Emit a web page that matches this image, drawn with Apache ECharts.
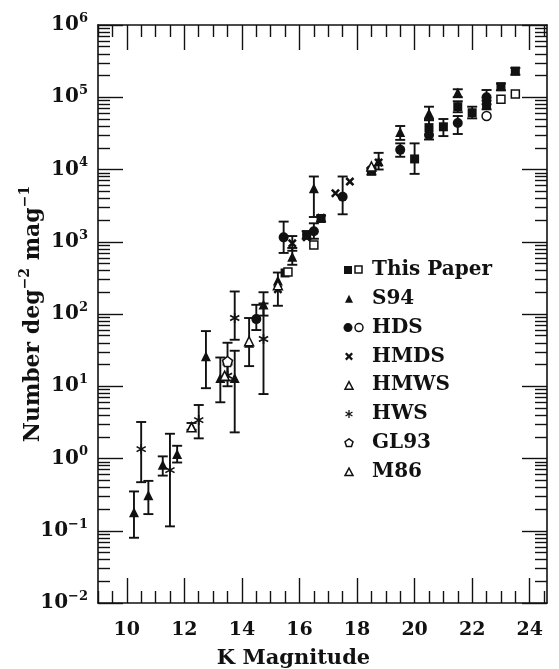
<!DOCTYPE html>
<html>
<head>
<meta charset="utf-8">
<script src="https://cdn.jsdelivr.net/npm/echarts@6/dist/echarts.min.js"></script>
<style>
html, body { margin: 0; padding: 0; background: #fff; }
#main { width: 559px; height: 669px; }
</style>
</head>
<body>
<div id="main"></div>
<script>
// K-band number counts, rows are [K mag, N, error low, error high]
var paperFilled = [
    [15.5, 370, null, null],
    [16.25, 1250, 1100, 1400],
    [16.75, 2100, 1900, 2300],
    [18.5, 9500, 8500, 10500],
    [20.0, 14000, 8700, 23000],
    [20.5, 38000, 26000, 48000],
    [21.0, 39000, 29000, 50000],
    [21.5, 74000, 62000, 88000],
    [22.0, 61000, 51000, 74000],
    [22.5, 78000, 68000, 90000],
    [23.0, 140000, 125000, 155000],
    [23.5, 230000, 205000, 255000]
];
var paperOpen = [
    [15.6, 380, null, null],
    [16.5, 900, null, null],
    [23.0, 94000, null, null],
    [23.5, 111000, null, null]
];
var s94 = [
    [10.25, 0.18, 0.08, 0.35],
    [10.75, 0.31, 0.17, 0.49],
    [11.25, 0.82, 0.58, 1.07],
    [11.75, 1.15, 0.88, 1.5],
    [12.25, 2.8, 2.5, 3.1],
    [12.75, 26, 9.4, 58],
    [13.25, 13, 6.0, 25],
    [13.75, 13, 2.3, 31],
    [14.25, 40, 19, 88],
    [14.75, 135, 95, 200],
    [15.25, 290, 130, 375],
    [15.75, 620, 480, 820],
    [16.5, 5500, 2200, 8000],
    [18.75, 13000, 10000, 17000],
    [19.5, 33000, 25700, 40000],
    [20.5, 60000, 50000, 74000],
    [21.5, 116000, 100000, 129000]
];
var hdsFilled = [
    [14.5, 85, 60, 134],
    [15.45, 1150, 700, 1900],
    [16.5, 1400, 1100, 1800],
    [17.5, 4200, 2400, 8000],
    [18.5, 10000, null, null],
    [19.5, 18700, 15000, 23000],
    [20.5, 30000, null, null],
    [21.5, 44000, 31000, 55000],
    [22.5, 100000, 80000, 126000]
];
var hdsOpen = [
    [22.5, 55000, null, null]
];
var hmds = [
    [15.25, 220, null, null],
    [15.75, 950, 750, 1200],
    [16.25, 1150, null, null],
    [16.75, 2150, null, null],
    [17.25, 4700, null, null],
    [17.75, 6800, null, null],
    [18.75, 12500, null, null]
];
var hmws = [
    [14.25, 42, null, null],
    [15.25, 250, null, null],
    [18.5, 11000, null, null]
];
var hws = [
    [10.5, 1.35, 0.47, 3.2],
    [11.5, 0.69, 0.115, 2.2],
    [12.5, 3.4, 1.9, 5.5],
    [13.5, 14, 10, 20],
    [13.75, 88, 44, 205],
    [14.75, 45, 7.8, 140]
];
var gl93 = [
    [13.5, 22, 12, 40]
];
var m86 = [
    [12.25, 2.7, null, null],
    [13.4, 14, null, null]
];

var xMajor = [10, 12, 14, 16, 18, 20, 22, 24];
var yDecades = [1e-2, 1e-1, 1, 10, 100, 1e3, 1e4, 1e5, 1e6];

var legendRows = [
    { name: 'This Paper', marks: ['squareFilled', 'squareOpen'] },
    { name: 'S94', marks: ['triangleFilled'] },
    { name: 'HDS', marks: ['circleFilled', 'circleOpen'] },
    { name: 'HMDS', marks: ['cross'] },
    { name: 'HMWS', marks: ['triangleOpen'] },
    { name: 'HWS', marks: ['star'] },
    { name: 'GL93', marks: ['pentagon'] },
    { name: 'M86', marks: ['triangleOpen'] }
];

var INK = '#111';
var FONT = 'DejaVu Serif';

// symbol outlines in a unit box
var crossPts = [[[0, 0.2], [0.2, 0], [0.5, 0.3], [0.8, 0], [1, 0.2], [0.7, 0.5], [1, 0.8], [0.8, 1], [0.5, 0.7], [0.2, 1], [0, 0.8], [0.3, 0.5]]];
var starPts = [
    [[0.42, 0], [0.58, 0], [0.58, 1], [0.42, 1]],
    [[0.027, 0.319], [0.107, 0.181], [0.973, 0.681], [0.893, 0.819]],
    [[0.893, 0.181], [0.973, 0.319], [0.107, 0.819], [0.027, 0.681]]
];
var pentaPts = [[[0.5, 0], [1, 0.36], [0.81, 0.95], [0.19, 0.95], [0, 0.36]]];

function toPath(polys) {
    return 'path://' + polys.map(function (p) {
        return 'M' + p.map(function (q) { return q[0] + ',' + q[1]; }).join('L') + 'Z';
    }).join('');
}

// minor ticks
var xMinor = [];
for (var v = 9; v <= 24.5; v += 0.5) {
    if (xMajor.indexOf(v) < 0) xMinor.push(v);
}
var yMinor = [];
for (var d = 0; d < yDecades.length - 1; d++) {
    for (var k = 2; k <= 9; k++) yMinor.push(+(k * yDecades[d]).toPrecision(3));
}

var lineStyle = { color: INK, width: 1.6 };

function xAxisOf(pos, major, withLabels) {
    return {
        type: 'value', position: pos, min: 9, max: 24.6,
        axisLine: { show: major, lineStyle: lineStyle, onZero: false },
        axisTick: {
            show: true, inside: true, length: major ? 25 : 12,
            customValues: major ? xMajor : xMinor,
            lineStyle: { color: INK, width: 1.4 }
        },
        axisLabel: {
            show: withLabels, customValues: xMajor, margin: 18,
            color: INK, fontFamily: FONT, fontWeight: 'bold', fontSize: 19
        },
        splitLine: { show: false },
        name: withLabels ? 'K Magnitude' : '',
        nameLocation: 'middle', nameGap: 45, nameMoveOverlap: false,
        nameTextStyle: {
            color: INK, fontFamily: FONT, fontWeight: 'bold', fontSize: 21,
            padding: [0, 58, 0, 0]
        }
    };
}

function yAxisOf(pos, major, withLabels) {
    return {
        type: 'log', logBase: 10, position: pos, min: 1e-2, max: 1e6,
        axisLine: { show: major, lineStyle: lineStyle, onZero: false },
        axisTick: {
            show: true, inside: true, length: major ? 25 : 12,
            customValues: major ? yDecades : yMinor,
            lineStyle: { color: INK, width: 1.4 }
        },
        axisLabel: {
            show: withLabels, customValues: yDecades, margin: 10,
            formatter: function (val) {
                var e = Math.round(Math.log(val) / Math.LN10);
                return '{b|10}{e|' + String(e).replace('-', '\u2212') + '}';
            },
            rich: {
                b: { color: INK, fontFamily: FONT, fontWeight: 'bold', fontSize: 20, lineHeight: 26 },
                e: { color: INK, fontFamily: FONT, fontWeight: 'bold', fontSize: 13, verticalAlign: 'top', lineHeight: 26 }
            }
        },
        splitLine: { show: false },
        minorTick: { show: false },
        name: withLabels ? '{t|Number deg}{s|\u22122}{t| mag}{s|\u22121}' : '',
        nameLocation: 'middle', nameGap: 50, nameMoveOverlap: false,
        nameTextStyle: {
            rich: {
                t: { color: INK, fontFamily: FONT, fontWeight: 'bold', fontSize: 22, lineHeight: 30 },
                s: { color: INK, fontFamily: FONT, fontWeight: 'bold', fontSize: 14, verticalAlign: 'top', lineHeight: 30 }
            }
        }
    };
}

function points(name, rows, symbol, filled, size) {
    return {
        name: name, type: 'scatter', xAxisIndex: 0, yAxisIndex: 0,
        symbol: symbol, symbolSize: size || 9,
        itemStyle: {
            color: filled ? INK : '#fff',
            borderColor: INK, borderWidth: filled ? 0 : 1.5, opacity: 1
        },
        data: rows.map(function (r) { return [r[0], r[1]]; }),
        z: 3, silent: true
    };
}

function errorBars(rows) {
    return {
        type: 'custom', xAxisIndex: 0, yAxisIndex: 0, z: 2, silent: true,
        encode: { x: 0, y: [1, 2] },
        data: rows.filter(function (r) { return r[2] != null; })
                  .map(function (r) { return [r[0], r[2], r[3]]; }),
        renderItem: function (params, api) {
            var lo = api.coord([api.value(0), api.value(1)]);
            var hi = api.coord([api.value(0), api.value(2)]);
            var w = 5;
            var st = { stroke: INK, lineWidth: 1.9 };
            return {
                type: 'group',
                children: [
                    { type: 'line', shape: { x1: lo[0], y1: lo[1], x2: hi[0], y2: hi[1] }, style: st },
                    { type: 'line', shape: { x1: lo[0] - w, y1: lo[1], x2: lo[0] + w, y2: lo[1] }, style: st },
                    { type: 'line', shape: { x1: hi[0] - w, y1: hi[1], x2: hi[0] + w, y2: hi[1] }, style: st }
                ]
            };
        }
    };
}

// legend built with graphic elements
function polys(list, cx, cy, s, style) {
    return {
        type: 'group',
        children: list.map(function (p) {
            return {
                type: 'polygon',
                shape: { points: p.map(function (q) { return [cx - s / 2 + q[0] * s, cy - s / 2 + q[1] * s]; }) },
                style: style
            };
        })
    };
}

function legendMark(kind, cx, cy) {
    var s = 8;
    var open = { fill: '#fff', stroke: INK, lineWidth: 1.5 };
    var full = { fill: INK };
    switch (kind) {
        case 'squareFilled': return { type: 'rect', shape: { x: cx - s / 2, y: cy - s / 2, width: s, height: s }, style: full };
        case 'squareOpen': return { type: 'rect', shape: { x: cx - s / 2, y: cy - s / 2, width: s - 1, height: s - 1 }, style: open };
        case 'circleFilled': return { type: 'circle', shape: { cx: cx, cy: cy, r: s / 2 + 0.5 }, style: full };
        case 'circleOpen': return { type: 'circle', shape: { cx: cx, cy: cy, r: s / 2 }, style: open };
        case 'triangleFilled': return polys([[[0.5, 0], [1, 1], [0, 1]]], cx, cy, s, full);
        case 'triangleOpen': return polys([[[0.5, 0.05], [1, 1], [0, 1]]], cx, cy, s, open);
        case 'cross': return polys(crossPts, cx, cy, s, full);
        case 'star': return polys(starPts, cx, cy, s, full);
        case 'pentagon': return polys(pentaPts, cx, cy, s, open);
    }
}

var legendEls = [];
legendRows.forEach(function (row, i) {
    var cy = 270 + i * 28.8;
    if (row.marks.length === 2) {
        legendEls.push(legendMark(row.marks[0], 348, cy));
        legendEls.push(legendMark(row.marks[1], 359, cy));
    } else {
        legendEls.push(legendMark(row.marks[0], 349, cy));
    }
    legendEls.push({
        type: 'text', x: 372, y: cy,
        style: {
            text: row.name, fill: INK, font: 'bold 20px "DejaVu Serif"',
            verticalAlign: 'middle', align: 'left'
        }
    });
});

var myChart = echarts.init(document.getElementById('main'));
var option = {
    animation: false,
    backgroundColor: '#fff',
    grid: { left: 98, right: 12, top: 25, bottom: 66, containLabel: false, outerBoundsMode: 'none' },
    xAxis: [
        xAxisOf('bottom', true, true),
        xAxisOf('bottom', false, false),
        xAxisOf('top', true, false),
        xAxisOf('top', false, false)
    ],
    yAxis: [
        yAxisOf('left', true, true),
        yAxisOf('left', false, false),
        yAxisOf('right', true, false),
        yAxisOf('right', false, false)
    ],
    graphic: legendEls,
    series: [
        errorBars(paperFilled), errorBars(s94), errorBars(hdsFilled), errorBars(hmds),
        errorBars(hws), errorBars(gl93),
        points('This Paper', paperFilled, 'rect', true, 9),
        points('This Paper open', paperOpen, 'rect', false, 8),
        points('S94', s94, 'triangle', true, 10),
        points('HDS', hdsFilled, 'circle', true, 10),
        points('HDS open', hdsOpen, 'circle', false, 9),
        points('HMDS', hmds, toPath(crossPts), true, 9),
        points('HMWS', hmws, 'triangle', false, 9),
        points('HWS', hws, toPath(starPts), true, 10),
        points('GL93', gl93, toPath(pentaPts), false, 10),
        points('M86', m86, 'triangle', false, 9)
    ]
};
myChart.setOption(option);
</script>
</body>
</html>
